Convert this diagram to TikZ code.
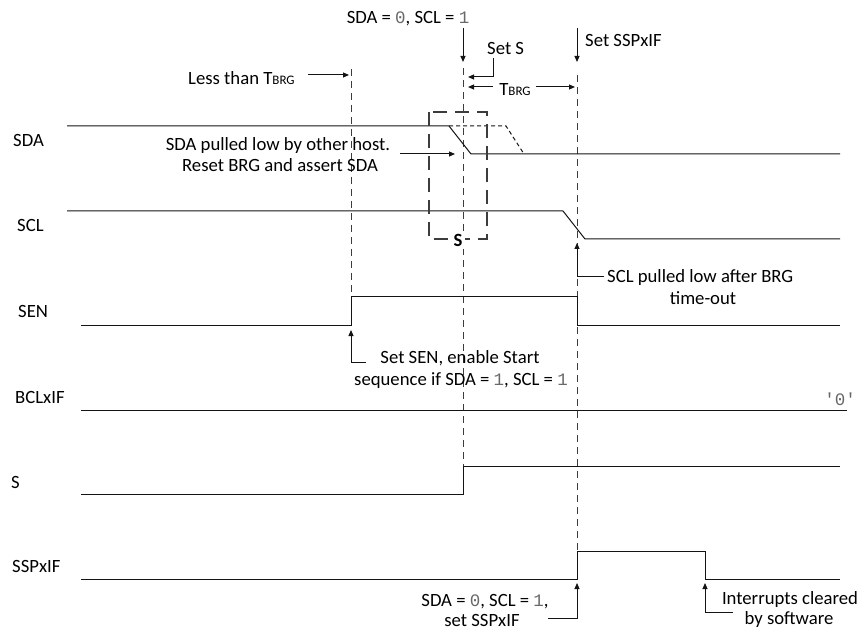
\documentclass[tikz,border=0pt]{standalone}
\usepackage{fontspec}
\setmainfont{Carlito}
\newfontfamily\monofnt{Liberation Mono}
\usetikzlibrary{arrows.meta}
\definecolor{digc}{RGB}{105,105,105}
\definecolor{dshc}{RGB}{60,60,60}
\definecolor{sigc}{RGB}{20,20,20}
\newcommand{\dg}[1]{{\fontsize{17.5}{20}\monofnt\color{digc}#1}}
\newcommand{\tbrg}{T{\fontsize{13}{13}\selectfont BRG}}
\begin{document}
\begin{tikzpicture}[x=1pt,y=-1pt,
  txt/.style={font=\fontsize{18.7}{22}\selectfont, inner sep=0pt, anchor=base west},
  txtc/.style={font=\fontsize{18.7}{22}\selectfont, inner sep=0pt, anchor=base},
  sig/.style={draw=sigc, line width=1pt},
  vdash/.style={draw=dshc, line width=1pt, dash pattern=on 7pt off 5pt},
  altdash/.style={draw=sigc, line width=1pt, dash pattern=on 4pt off 3pt},
  boxdash/.style={draw=dshc, line width=1.1pt, dash pattern=on 14pt off 8pt},
  arr/.style={draw=sigc, line width=1pt, -{Triangle[length=6pt,width=5pt]}}]
\fill[white] (0,0) rectangle (860,631);
\useasboundingbox (0,0) rectangle (860,631);

% vertical dashed reference lines
\coordinate (v1t) at (351,69);  \coordinate (v1b) at (351,297);
\coordinate (v2t) at (463,68);  \coordinate (v2b) at (463,466);
\coordinate (v3t) at (577,75);  \coordinate (v3b) at (577,551);
\draw[vdash] (v1t) -- (v1b);
\draw[vdash] (v2t) -- (v2b);
\draw[vdash] (v3t) -- (v3b);

% signal names
\node[txt] (nSDA) at (13,147) {SDA};
\node[txt] (nSCL) at (17,232) {SCL};
\node[txt] (nSEN) at (18,317) {SEN};
\node[txt] (nBCL) at (15,403) {BCLxIF};
\node[txt] (nS) at (11,488) {S};
\node[txt] (nSSP) at (12,572) {SSPxIF};

% waveforms
\draw[sig] (67,126) -- (449,126) -- (471,154) -- (840,154);
\draw[altdash] (449,126) -- (506,126) -- (524,154);
\draw[sig] (67,211) -- (563,211) -- (585,239) -- (840,239);
\draw[sig] (81,325) -- (351,325) -- (351,297) -- (577,297) -- (577,325) -- (840,325);
\draw[sig] (81,410) -- (847,410);
\draw[sig] (81,494) -- (463,494) -- (463,466) -- (840,466);
\draw[sig] (81,579) -- (577,579) -- (577,551) -- (705,551) -- (705,579) -- (840,579);

% S box
\draw[boxdash] (429,112) rectangle (487,239);
\node[fill=white, inner sep=3pt, font=\fontsize{18.7}{22}\selectfont\bfseries] (sbox) at (458,240) {S};

% top annotations
\node[txtc] (tSDA) at (408,24) {SDA = \dg{0}, SCL = \dg{1}};
\coordinate (a1s) at (463,28); \coordinate (a1e) at (463,62);
\draw[arr] (a1s) -- (a1e);

\node[txt] (tSetS) at (487,55) {Set S};
\coordinate (a2s) at (493,58); \coordinate (a2e) at (468,77);
\draw[arr] (a2s) |- (a2e);

\node[txt] (tSetSSP) at (585,47) {Set SSPxIF};
\coordinate (a3s) at (577,28); \coordinate (a3e) at (577,62);
\draw[arr] (a3s) -- (a3e);

\node[txt] (tLess) at (188,85) {Less than \tbrg};
\coordinate (a4s) at (308,75); \coordinate (a4e) at (349,75);
\draw[arr] (a4s) -- (a4e);

\node[txtc] (tTbrg) at (515,96) {\tbrg};
\coordinate (a5s) at (493,87); \coordinate (a5e) at (468,87);
\coordinate (a6s) at (536,87); \coordinate (a6e) at (575,87);
\draw[arr] (a5s) -- (a5e);
\draw[arr] (a6s) -- (a6e);

% SDA pulled low
\node[txtc] (tPullA) at (278,151) {SDA pulled low by other host.};
\node[txtc] (tPullB) at (280,172) {Reset BRG and assert SDA};
\coordinate (a7s) at (400,154); \coordinate (a7e) at (455,154);
\draw[arr] (a7s) -- (a7e);

% SCL pulled low
\node[txt] (tSclA) at (607,283) {SCL pulled low after BRG};
\node[txtc] (tSclB) at (703,305) {time-out};
\coordinate (a8s) at (604,277); \coordinate (a8e) at (577,243);
\draw[arr] (a8s) -| (a8e);

% Set SEN
\node[txtc] (tSenA) at (460,363) {Set SEN, enable Start};
\node[txtc] (tSenB) at (461,385) {sequence if SDA = \dg{1}, SCL = \dg{1}};
\coordinate (a9s) at (366,362); \coordinate (a9e) at (351,330);
\draw[arr] (a9s) -| (a9e);

% BCLxIF value
\node[inner sep=0pt, anchor=base] (tZero) at (840,405) {\dg{'0'}};

% SSPxIF annotations
\node[txtc] (tSspA) at (485,606) {SDA = \dg{0}, SCL = \dg{1},};
\node[txtc] (tSspB) at (482,626) {set SSPxIF};
\coordinate (a10s) at (548,618); \coordinate (a10e) at (577,583);
\draw[arr] (a10s) -| (a10e);

\node[txtc] (tIntA) at (790,604) {Interrupts cleared};
\node[txtc] (tIntB) at (789,624) {by software};
\coordinate (a11s) at (733,612); \coordinate (a11e) at (705,583);
\draw[arr] (a11s) -| (a11e);
\end{tikzpicture}
\end{document}
